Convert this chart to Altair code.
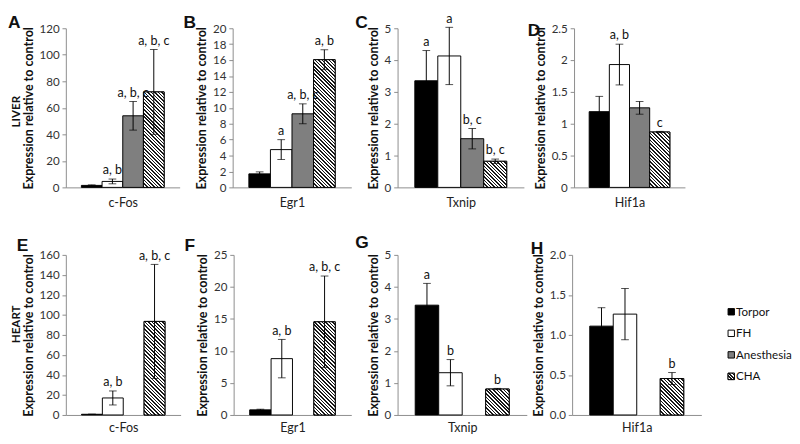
import math
import altair as alt
import pandas as pd

# ---------------- data ----------------
groups = ["Torpor", "FH", "Anesthesia", "CHA"]
group_colors = ["#000000", "#ffffff", "#7f7f7f", "#ffffff"]

panel_letters = ["A", "B", "C", "D", "E", "F", "G", "H"]
panel_genes = ["c-Fos", "Egr1", "Txnip", "Hif1a", "c-Fos", "Egr1", "Txnip", "Hif1a"]
row_labels = ["LIVER", "HEART"]
y_max = [120, 20, 5, 2.5, 160, 25, 5, 2.0]
y_step = [20, 2, 1, 0.5, 20, 5, 1, 0.5]
y_format = ["d", "d", "d", "~g", "d", "d", "d", ".1f"]

# mean expression (Torpor, FH, Anesthesia, CHA); None = not measured
means = [
    [1.5, 4.5, 54.0, 72.0],
    [1.7, 4.75, 9.25, 16.05],
    [3.35, 4.13, 1.53, 0.82],
    [1.19, 1.93, 1.25, 0.87],
    [0.7, 17.0, None, 93.5],
    [0.8, 8.8, None, 14.55],
    [3.43, 1.32, None, 0.81],
    [1.11, 1.26, None, 0.455],
]
errors = [
    [0.4, 1.8, 10.8, 32.0],
    [0.25, 1.25, 1.25, 1.25],
    [0.95, 0.9, 0.32, 0.07],
    [0.24, 0.32, 0.1, 0.01],
    [0.1, 7.0, None, 57.0],
    [0.1, 3.0, None, 7.15],
    [0.68, 0.41, None, 0.02],
    [0.23, 0.32, None, 0.075],
]
sig_letters = [
    ["", "a, b", "a, b, c", "a, b, c"],
    ["", "a", "a, b, c", "a, b"],
    ["a", "a", "b, c", "b, c"],
    ["", "a, b", "", "c"],
    ["", "a, b", "", "a, b, c"],
    ["", "a, b", "", "a, b, c"],
    ["a", "b", "", "b"],
    ["", "", "", "b"],
]

# ---------------- layout / style ----------------
widths = [118, 123, 131, 115, 119, 122, 134, 134]
heights = [165, 165, 165, 165, 166, 166, 166, 166]
letter_dx = [-60, -51, -44, -48, -51, -51, -44, -43]
letter_dy = [0, 0, 0, 8, -4, -4, -7, -1]
row_label_dy = [4, -11]
PAD_OUTER = 0.75
AX = "#8a8a8a"
FONT = "Lato"


def hatch(w, h, period=2.6, dark=0.45, color="#1a1a1a"):
    n = max(1, round((w + h) / (math.sqrt(2) * period)))
    c = (w + h) / (w * w + h * h)
    stops = []
    for k in range(n):
        a, b, e = k / n, (k + dark) / n, (k + 1) / n
        stops += [
            alt.GradientStop(color=color, offset=a),
            alt.GradientStop(color=color, offset=b),
            alt.GradientStop(color="#ffffff", offset=b),
            alt.GradientStop(color="#ffffff", offset=e),
        ]
    return alt.LinearGradient(gradient="linear", stops=stops,
                              x1=0, y1=1, x2=c * w, y2=1 - c * h)


fill_scale = alt.Scale(domain=groups, range=group_colors)


def legend_layers(W):
    leg_df = pd.DataFrame({"group": groups})
    ly = alt.Y("group:N", scale=alt.Scale(type="point", domain=groups,
                                          range=[59, 126], padding=0), axis=None)
    sq = alt.Chart(leg_df).mark_square(size=44, stroke="black", strokeWidth=1,
                                       opacity=1).encode(
        x=alt.value(W + 31), y=ly,
        fill=alt.Fill("group:N", scale=fill_scale, legend=None))
    sq_cha = alt.Chart(leg_df).transform_filter(alt.datum.group == "CHA").mark_square(
        size=44, stroke="black", strokeWidth=1, opacity=1,
        fill=hatch(6.6, 6.6, period=2.2)).encode(x=alt.value(W + 31), y=ly)
    txt = alt.Chart(leg_df).mark_text(align="left", baseline="middle", font=FONT,
                                      fontSize=12, color="#111").encode(
        x=alt.value(W + 36), y=ly, text="group:N")
    return [sq, sq_cha, txt]


def panel(i):
    W, H = widths[i], heights[i]
    rows = []
    for g, m, e, t in zip(groups, means[i], errors[i], sig_letters[i]):
        if m is None:
            continue
        rows.append({"group": g, "mean": m, "lo": m - e, "hi": m + e, "label": t})
    df = pd.DataFrame(rows)

    x = alt.X("group:N",
              scale=alt.Scale(domain=groups, paddingInner=0, paddingOuter=PAD_OUTER),
              axis=alt.Axis(title=panel_genes[i], labels=False, ticks=False,
                            domainColor=AX, titleFontWeight="normal",
                            titleFontSize=13, titlePadding=10 if i < 4 else 7,
                            titleColor="#222"))
    nt = int(round(y_max[i] / y_step[i]))
    ticks = [round(k * y_step[i], 4) for k in range(nt + 1)]
    yscale = alt.Scale(domain=[0, y_max[i]], nice=False, zero=True)
    yaxis = alt.Axis(title="Expression relative to control", values=ticks,
                     format=y_format[i], grid=False, domainColor=AX, tickColor=AX,
                     tickSize=4, labelPadding=3, labelFontSize=12, labelColor="#333",
                     titleFontSize=13, titleFontWeight="bold", titlePadding=4,
                     titleColor="#111")
    independent = (i == 7)

    def Y(field, main=False):
        if independent and not main:
            return alt.Y(field, scale=yscale, axis=None)
        return alt.Y(field, scale=yscale, axis=yaxis)

    base = alt.Chart(df)
    bars = base.mark_bar(stroke="black", strokeWidth=1).encode(
        x=x, y=Y("mean:Q", main=True),
        fill=alt.Fill("group:N", scale=fill_scale, legend=None))
    step = W / (4 + 2 * PAD_OUTER)
    h_cha = means[i][3] / y_max[i] * H
    cha = base.transform_filter(alt.datum.group == "CHA").mark_bar(
        fill=hatch(step, h_cha), stroke="black", strokeWidth=1).encode(x=x, y=Y("mean:Q"))
    rule = base.mark_rule(color="black", strokeWidth=1).encode(x=x, y=Y("lo:Q"), y2="hi:Q")
    cap_hi = base.mark_tick(color="black", size=8, thickness=1).encode(x=x, y=Y("hi:Q"))
    cap_lo = base.mark_tick(color="black", size=8, thickness=1).encode(x=x, y=Y("lo:Q"))
    txt = base.mark_text(baseline="alphabetic", dy=-5, font=FONT, fontSize=13,
                         color="#111").encode(x=x, y=Y("hi:Q"), text="label:N")
    letter = alt.Chart(pd.DataFrame({"t": [panel_letters[i]]})).mark_text(
        font="Liberation Sans", fontSize=18, fontWeight="bold", color="#111",
        align="left", baseline="alphabetic").encode(
        text="t:N", x=alt.value(letter_dx[i]), y=alt.value(letter_dy[i]))
    layers = [bars, cha, rule, cap_hi, cap_lo, txt, letter]
    if i % 4 == 0:
        lab = alt.Chart(pd.DataFrame({"t": [row_labels[i // 4]]})).mark_text(
            angle=270, font=FONT, fontSize=12, fontWeight="bold", color="#111",
            align="center", baseline="middle").encode(
            text="t:N", x=alt.value(-52),
            y=alt.value(H / 2 + row_label_dy[i // 4]))
        layers.append(lab)
    if independent:
        layers += legend_layers(W)
    ch = alt.layer(*layers).properties(width=W, height=H)
    if independent:
        ch = ch.resolve_scale(y="independent")
    return ch


row1 = alt.hconcat(*[panel(i) for i in range(4)], spacing=4)
row2 = alt.hconcat(*[panel(i) for i in range(4, 8)], spacing=4)

chart = alt.vconcat(row1, row2, spacing=26).properties(
    padding={"left": 0, "top": -3, "right": 0, "bottom": 0}
).configure_view(stroke=None).configure_axis(labelFont=FONT, titleFont=FONT)

chart.save("out.html", embed_options={"renderer": "svg", "actions": False})
